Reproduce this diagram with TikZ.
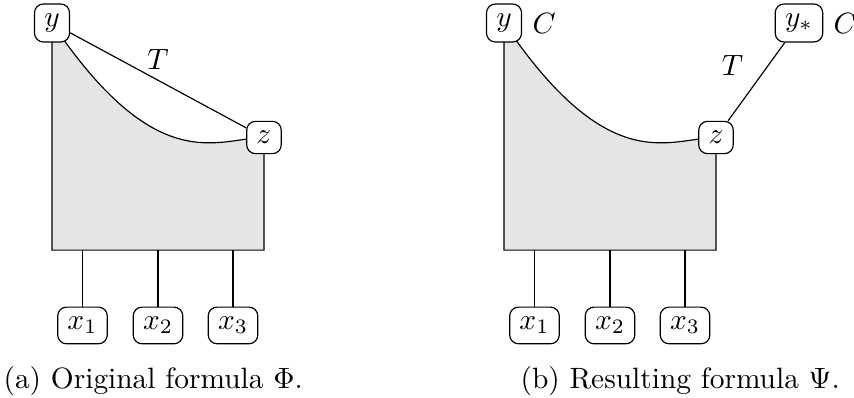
\documentclass[tikz,border=0pt]{standalone}
\usepackage{amsmath}
\usepackage{amssymb}
\usepackage{tikz}
\usetikzlibrary{positioning, calc, backgrounds}

\tikzset{
  var/.style={draw, rectangle, rounded corners=3pt, fill=white},
  region/.style={draw, fill=black!10},
  subcap/.style={anchor=base west, inner sep=0pt}
}

\begin{document}
\begin{tikzpicture}
\useasboundingbox (0,0) rectangle (10.21,-4.758);

% (a) Original formula
\coordinate (botA) at (0,-2.99);
\node[var] (yA) at (0.622,-0.275) {$y$};
\node[var] (zA) at (3.156,-1.644) {$z$};
\node[var] (x1A) at (0.986,-3.891) {$x_1$};
\node[var] (x2A) at (1.889,-3.891) {$x_2$};
\node[var] (x3A) at (2.786,-3.891) {$x_3$};

% shaded body of the formula
\begin{scope}[on background layer]
\draw[region] (yA.center) to[out=-56, in=181, out looseness=2.0, in looseness=0.5] (zA.center)
  -- (zA.center |- botA) -- (yA.center |- botA) -- cycle;
\end{scope}

\draw (yA) -- node[above] (tA) {$T$} (zA);
\draw (x1A) -- (x1A |- botA);
\draw (x2A) -- (x2A |- botA);
\draw (x3A) -- (x3A |- botA);

\node[subcap] (capA) at (0.036,-4.639) {(a) Original formula $\Phi$.};

% (b) Resulting formula
\coordinate (botB) at (5.404,-2.99);
\node[var] (yB) at (6.026,-0.275) {$y$};
\node[right=0pt of yB] (cB) {$C$};
\node[var] (zB) at (8.560,-1.644) {$z$};
\node[var] (ysB) at (9.552,-0.275) {$y_*$};
\node[right=0pt of ysB] (csB) {$C$};
\node[var] (x1B) at (6.390,-3.891) {$x_1$};
\node[var] (x2B) at (7.293,-3.891) {$x_2$};
\node[var] (x3B) at (8.190,-3.891) {$x_3$};

\begin{scope}[on background layer]
\draw[region] (yB.center) to[out=-56, in=181, out looseness=2.0, in looseness=0.5] (zB.center)
  -- (zB.center |- botB) -- (yB.center |- botB) -- cycle;
\end{scope}

\draw (zB) -- node[above left, pos=0.45] (tB) {$T$} (ysB);
\draw (x1B) -- (x1B |- botB);
\draw (x2B) -- (x2B |- botB);
\draw (x3B) -- (x3B |- botB);

\node[subcap] (capB) at (6.217,-4.639) {(b) Resulting formula $\Psi$.};

\end{tikzpicture}
\end{document}
